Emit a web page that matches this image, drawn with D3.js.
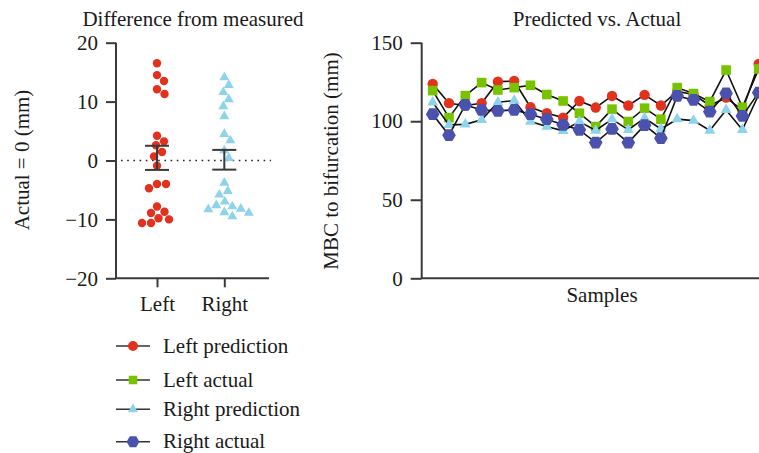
<!DOCTYPE html>
<html><head><meta charset="utf-8">
<script src="https://cdn.jsdelivr.net/npm/d3@7"></script>
<style>
body{margin:0;background:#fff;}
svg{display:block;}
text{font-family:"Liberation Serif","Times New Roman",serif;fill:#1a1a1a;}
</style></head>
<body>
<svg id="chart" width="759" height="453"></svg>
<script>
// ---------- DATA ----------
const groups = ["Left", "Right"];
const leftDiff = [16.5, 14.5, 13.5, 12.1, 11.3, 4.2, 3.25, 2.6, 1.44, 0.7, -0.9, -4.0, -4.0, -4.7, -7.8, -8.9, -8.7, -10.0, -9.8, -10.6, -10.6];
const rightDiff = [14.1, 12.8, 11.6, 10.4, 9.2, 7.5, 4.5, 3.4, 1.7, 0.4, -3.8, -5.2, -5.8, -7.6, -7.0, -7.8, -8.2, -8.3, -8.8, -8.9, -9.5];
const errLow = [-1.6, -1.55];
const errHigh = [2.5, 1.8];
const diffTicks = [-20, -10, 0, 10, 20];

const samples = d3.range(1, 22);
const leftPrediction = [123.7, 111.5, 110, 111.5, 125.2, 125.6, 108.9, 105.1, 102.3, 112.9, 108.7, 116.1, 110, 116.8, 110, 119, 117, 110, 115, 107, 136.5];
const leftActual = [119.5, 102.3, 116.3, 124.6, 119.9, 121.4, 122.9, 117, 112.9, 105.1, 96.6, 107.7, 99.8, 108.3, 101.3, 121.4, 117.6, 112.5, 132.6, 108.9, 133.3];
const rightPrediction = [112.1, 97.7, 98, 100.9, 112.1, 113.1, 99.8, 96.6, 93.9, 99.8, 94.1, 101.3, 94.5, 102, 95.1, 101.3, 100.4, 94.1, 107.2, 94.5, 117];
const rightActual = [104.5, 91.1, 110.4, 107.2, 106.6, 107.2, 104.5, 101.3, 97.7, 94.5, 86.4, 95.1, 86.4, 97.5, 89.2, 116.1, 113.6, 106.1, 117.8, 103.4, 118.2];
const mbcTicks = [0, 50, 100, 150];
const seriesNames = ["Left prediction", "Left actual", "Right prediction", "Right actual"];

// ---------- STYLE ----------
const RED = "#e2321d", GREEN = "#77c300", LBLUE = "#8dd3ec", BLUE = "#4a52ae";
const AX = "#3a3a3a";
const FS = "21px";
const svg = d3.select("#chart");

const hexPath = r => {
  const pts = d3.range(6).map(i => [r * Math.cos(i * Math.PI / 3), r * Math.sin(i * Math.PI / 3)]);
  return "M" + pts.map(p => p.join(",")).join("L") + "Z";
};
const symbolPath = (kind, s) => {
  if (kind === "circle") return d3.symbol(d3.symbolCircle, Math.PI * s * s)();
  if (kind === "square") return d3.symbol(d3.symbolSquare, s * s)();
  if (kind === "triangle") return d3.symbol(d3.symbolTriangle, Math.sqrt(3) / 4 * s * s)();
  return hexPath(s);
};

// ---------- LEFT CHART ----------
const yL = d3.scaleLinear().domain([-20, 20]).range([278.3, 42.7]);
const xL = d3.scalePoint().domain(groups).range([157, 224.3]);

const gL = svg.append("g");
gL.append("text").attr("x", 193).attr("y", 26).attr("text-anchor", "middle")
  .style("font-size", FS).text("Difference from measured");

const yAxL = gL.append("g").attr("transform", "translate(116,0)")
  .call(d3.axisLeft(yL).tickValues(diffTicks).tickSize(10).tickPadding(8));
yAxL.selectAll("path,line").attr("stroke", AX).attr("stroke-width", 2);
yAxL.select(".domain").attr("d", `M0,${yL(20)}V${yL(-20)}`);
yAxL.selectAll("text").style("font-size", FS).style("font-family", "Liberation Serif").attr("fill", "#1a1a1a");

const xAxL = gL.append("g").attr("transform", `translate(0,${yL(-20)})`)
  .call(d3.axisBottom(xL).tickSize(9).tickPadding(9));
xAxL.select(".domain").attr("d", "M116,0H269");
xAxL.selectAll("path,line").attr("stroke", AX).attr("stroke-width", 2);
xAxL.selectAll("text").style("font-size", FS).style("font-family", "Liberation Serif").attr("fill", "#1a1a1a");

gL.append("text").attr("transform", `translate(29,160) rotate(-90)`).attr("text-anchor", "middle")
  .style("font-size", FS).text("Actual = 0 (mm)");

gL.append("line").attr("x1", 121).attr("x2", 271).attr("y1", yL(0)).attr("y2", yL(0))
  .attr("stroke", "#222").attr("stroke-width", 1.6).attr("stroke-dasharray", "1.6,4.6");

function swarm(values, cx, minDist) {
  const pts = values.map(v => ({ v, y: yL(v) })).sort((a, b) => a.y - b.y);
  const placed = [];
  pts.forEach(p => {
    for (let k = 0; k < 200; k++) {
      const cands = k === 0 ? [0] : [k * 0.5, -k * 0.5];
      let ok = null;
      for (const off of cands) {
        if (placed.every(q => (q.x - (cx + off)) ** 2 + (q.y - p.y) ** 2 >= minDist * minDist)) { ok = off; break; }
      }
      if (ok !== null) { p.x = cx + ok; break; }
    }
    placed.push(p);
  });
  return placed;
}

const lpts = swarm(leftDiff, xL("Left"), 8.8);
gL.selectAll(".lp").data(lpts).join("path").attr("class", "lp")
  .attr("transform", d => `translate(${d.x},${d.y})`).attr("d", symbolPath("circle", 4.2)).attr("fill", RED);
const rpts = swarm(rightDiff, xL("Right"), 8.8);
gL.selectAll(".rp").data(rpts).join("path").attr("class", "rp")
  .attr("transform", d => `translate(${d.x},${d.y})`).attr("d", symbolPath("triangle", 10)).attr("fill", LBLUE);

// error bars
groups.forEach((g, i) => {
  const cx = xL(g), w = 12;
  const eb = gL.append("g").attr("stroke", AX).attr("stroke-width", 2);
  eb.append("line").attr("x1", cx).attr("x2", cx).attr("y1", yL(errHigh[i])).attr("y2", yL(errLow[i]));
  eb.append("line").attr("x1", cx - w).attr("x2", cx + w).attr("y1", yL(errHigh[i])).attr("y2", yL(errHigh[i]));
  eb.append("line").attr("x1", cx - w).attr("x2", cx + w).attr("y1", yL(errLow[i])).attr("y2", yL(errLow[i]));
});

// ---------- RIGHT CHART ----------
const yR = d3.scaleLinear().domain([0, 150]).range([278.3, 42.7]);
const xR = d3.scalePoint().domain(samples).range([432.7, 758.7]);
const gR = svg.append("g");

gR.append("text").attr("x", 597).attr("y", 26).attr("text-anchor", "middle")
  .style("font-size", FS).text("Predicted vs. Actual");

const yAxR = gR.append("g").attr("transform", "translate(421.7,0)")
  .call(d3.axisLeft(yR).tickValues(mbcTicks).tickSize(11).tickPadding(8));
yAxR.select(".domain").attr("d", `M0,${yR(150)}V${yR(0)}`);
yAxR.selectAll("path,line").attr("stroke", AX).attr("stroke-width", 2);
yAxR.selectAll("text").style("font-size", FS).style("font-family", "Liberation Serif").attr("fill", "#1a1a1a");

gR.append("line").attr("x1", 421.7).attr("x2", 765).attr("y1", yR(0)).attr("y2", yR(0))
  .attr("stroke", AX).attr("stroke-width", 2);
gR.append("text").attr("x", 602).attr("y", 302).attr("text-anchor", "middle")
  .style("font-size", FS).text("Samples");
gR.append("text").attr("transform", `translate(338,161) rotate(-90)`).attr("text-anchor", "middle")
  .style("font-size", FS).text("MBC to bifurcation (mm)");

const series = [
  { name: seriesNames[0], vals: leftPrediction, color: RED, kind: "circle", s: 5.2 },
  { name: seriesNames[1], vals: leftActual, color: GREEN, kind: "square", s: 9.6 },
  { name: seriesNames[2], vals: rightPrediction, color: LBLUE, kind: "triangle", s: 11 },
  { name: seriesNames[3], vals: rightActual, color: BLUE, kind: "hex", s: 6.8 }
];
const line = d3.line().x((d, i) => xR(samples[i])).y(d => yR(d));
series.forEach(sr => {
  const g = gR.append("g");
  g.append("path").attr("d", line(sr.vals)).attr("fill", "none").attr("stroke", "#111").attr("stroke-width", 1.6);
  g.selectAll("path.m").data(sr.vals).join("path").attr("class", "m")
    .attr("transform", (d, i) => `translate(${xR(samples[i])},${yR(d)})`)
    .attr("d", symbolPath(sr.kind, sr.s)).attr("fill", sr.color);
});

// ---------- LEGEND ----------
const legY = [346, 380, 409.3, 441.7];
const gLeg = svg.append("g");
series.forEach((sr, i) => {
  const g = gLeg.append("g").attr("transform", `translate(0,${legY[i]})`);
  g.append("line").attr("x1", 116).attr("x2", 150).attr("stroke", "#333").attr("stroke-width", 1.6);
  g.append("path").attr("transform", "translate(133,0)").attr("d", symbolPath(sr.kind, sr.kind === "hex" ? 6.4 : sr.kind === "circle" ? 5 : sr.kind === "square" ? 8.5 : 10)).attr("fill", sr.color);
  g.append("text").attr("x", 163).attr("y", 6.5).style("font-size", FS).text(sr.name);
});
</script>
</body></html>
